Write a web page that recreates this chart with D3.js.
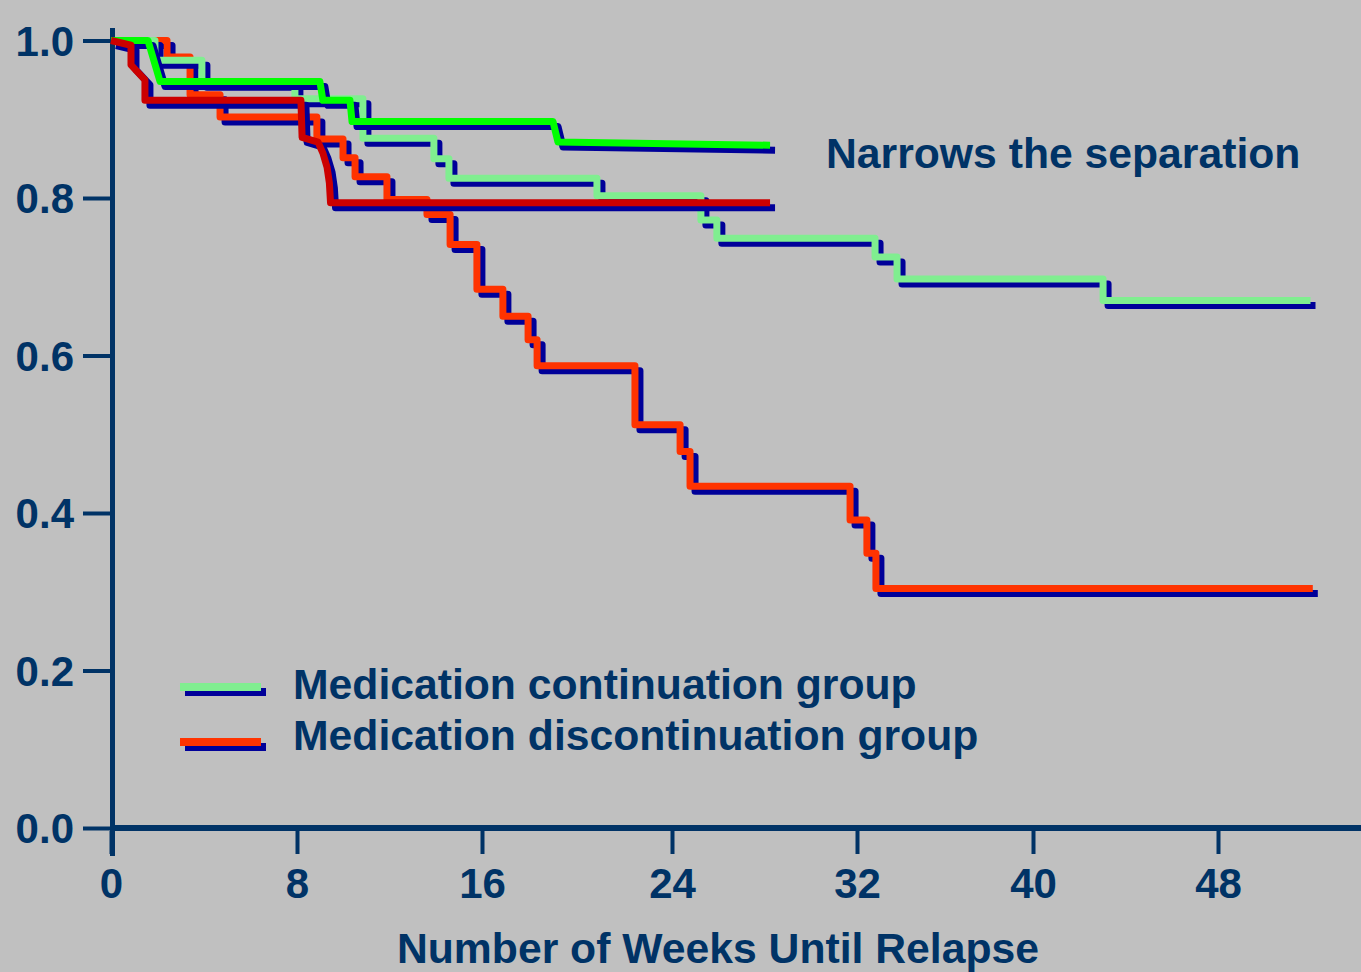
<!DOCTYPE html>
<html>
<head>
<meta charset="utf-8">
<script src="https://cdn.jsdelivr.net/npm/d3@7"></script>
<style>
    html, body { margin: 0; padding: 0; background: #c0c0c0; }
    svg { display: block; font-family: "Liberation Sans", Arial, sans-serif; font-weight: bold; }
</style>
</head>
<body>
<svg id="chart" width="1361" height="972"></svg>
<script>
// Time to relapse, continuation vs discontinuation (two overlaid studies)

const xTicks = [0, 8, 16, 24, 32, 40, 48];
const yTicks = [0, 0.2, 0.4, 0.6, 0.8, 1.0];
const xTitle = "Number of Weeks Until Relapse";
const annotation = "Narrows the separation";
const legendLabels = ["Medication continuation group", "Medication discontinuation group"];

// long study, continuation (light green) - step changes
const contLongWeeks = [0, 1.89, 3.91, 7.91, 10.85, 13.92, 14.57, 20.84, 25.25, 25.94, 32.82, 33.82, 43.03, 52.0];
const contLongSurv  = [1.0, 0.975, 0.947, 0.926, 0.876, 0.850, 0.825, 0.803, 0.772, 0.749, 0.725, 0.697, 0.670, 0.670];

// long study, discontinuation (orange red) - step changes
const discLongWeeks = [0, 2.41, 3.40, 4.69, 8.86, 9.99, 10.51, 11.89, 13.62, 14.62, 15.78, 16.88, 17.94, 18.32,
    22.44, 24.35, 24.78, 31.70, 32.45, 32.86, 52.1];
const discLongSurv  = [1.0, 0.979, 0.931, 0.903, 0.875, 0.851, 0.827, 0.798, 0.779, 0.741, 0.684, 0.650, 0.620, 0.587,
    0.512, 0.478, 0.434, 0.391, 0.349, 0.304, 0.304];

// short study, continuation (bright green) - traced outline
const contShortWeeks = [0, 1.59, 2.11, 8.99, 9.12, 10.29, 10.38, 18.99, 19.20, 28.24];
const contShortSurv  = [1.0, 1.0, 0.948, 0.948, 0.924, 0.924, 0.897, 0.897, 0.871, 0.867];

// short study, discontinuation (dark red) - traced outline
const discShortWeeks = [0, 0.86, 0.86, 1.46, 1.46, 8.17, 8.22, 8.91, 9.12, 9.30, 9.40, 9.45, 28.24];
const discShortSurv  = [1.0, 0.994, 0.969, 0.950, 0.924, 0.924, 0.877, 0.871, 0.857, 0.839, 0.819, 0.794, 0.794];

const navy = "#003366";
const shadowColor = "#000099";
const textSize = "42.7px";

const svg = d3.select("#chart");

// the printed ticks are not quite evenly spaced, so map each one
const x = d3.scaleLinear()
    .domain(xTicks)
    .range([111, 297, 482, 672, 857, 1033, 1218]);

const y = d3.scaleLinear()
    .domain([0, 1])
    .range([828, 40.5]);

// axes
const yAxis = svg.append("g")
    .attr("transform", "translate(112,0)")
    .call(d3.axisLeft(y).tickValues(yTicks).tickFormat(d3.format(".1f")).tickSize(29).tickPadding(9));

const xAxis = svg.append("g")
    .attr("transform", "translate(0,831)")
    .call(d3.axisBottom(x).tickValues(xTicks).tickSize(23));

[yAxis, xAxis].forEach(g => {
    g.select(".domain").remove();
    g.selectAll(".tick line").attr("stroke", navy).attr("stroke-width", 4);
    g.selectAll(".tick text")
        .attr("fill", navy)
        .style("font-size", "42px")
        .style("font-weight", "bold")
        .style("font-family", "'Liberation Sans', Arial, sans-serif");
});
yAxis.selectAll(".tick text").attr("dy", "0.35em");
xAxis.selectAll(".tick text").attr("y", 67).attr("dy", 0);

svg.append("line")
    .attr("x1", 112.5).attr("x2", 112.5)
    .attr("y1", 28).attr("y2", 856)
    .attr("stroke", navy).attr("stroke-width", 5);

svg.append("line")
    .attr("x1", 110).attr("x2", 1361)
    .attr("y1", 828).attr("y2", 828)
    .attr("stroke", navy).attr("stroke-width", 6);

svg.append("text")
    .attr("x", 718).attr("y", 963)
    .attr("text-anchor", "middle")
    .attr("fill", navy)
    .style("font-size", textSize)
    .text(xTitle);

// curves
const zip = (ws, vs) => ws.map((w, i) => [w, vs[i]]);

const series = [
    { pts: zip(discLongWeeks, discLongSurv), color: "#ff3300", curve: d3.curveStepAfter },
    { pts: zip(contLongWeeks, contLongSurv), color: "#80ee90", curve: d3.curveStepAfter },
    { pts: zip(contShortWeeks, contShortSurv), color: "#00ff00", curve: d3.curveLinear },
    { pts: zip(discShortWeeks, discShortSurv), color: "#cc0000", curve: d3.curveLinear }
];

const shadowOffset = 5;

series.forEach(s => {
    const line = d3.line()
        .x(d => x(d[0]))
        .y(d => y(d[1]))
        .curve(s.curve);

    svg.append("path")
        .attr("d", line(s.pts))
        .attr("transform", `translate(${shadowOffset},${shadowOffset})`)
        .attr("fill", "none")
        .attr("stroke", shadowColor)
        .attr("stroke-width", 7)
        .attr("stroke-linejoin", "round");

    svg.append("path")
        .attr("d", line(s.pts))
        .attr("fill", "none")
        .attr("stroke", s.color)
        .attr("stroke-width", 7)
        .attr("stroke-linejoin", "round");
});

// legend
const legendColors = ["#80ee90", "#ff3300"];
const legend = svg.append("g");
legendLabels.forEach((label, i) => {
    const ly = 687 + i * 55;
    legend.append("line")
        .attr("x1", 185).attr("x2", 266)
        .attr("y1", ly + 5).attr("y2", ly + 5)
        .attr("stroke", shadowColor).attr("stroke-width", 8);
    legend.append("line")
        .attr("x1", 180).attr("x2", 261)
        .attr("y1", ly).attr("y2", ly)
        .attr("stroke", legendColors[i]).attr("stroke-width", 8);
    legend.append("text")
        .attr("x", 293).attr("y", ly + 12 + i * -4)
        .attr("fill", navy)
        .style("font-size", textSize)
        .text(label);
});

svg.append("text")
    .attr("x", 826).attr("y", 168)
    .attr("fill", navy)
    .style("font-size", textSize)
    .text(annotation);
</script>
</body>
</html>
